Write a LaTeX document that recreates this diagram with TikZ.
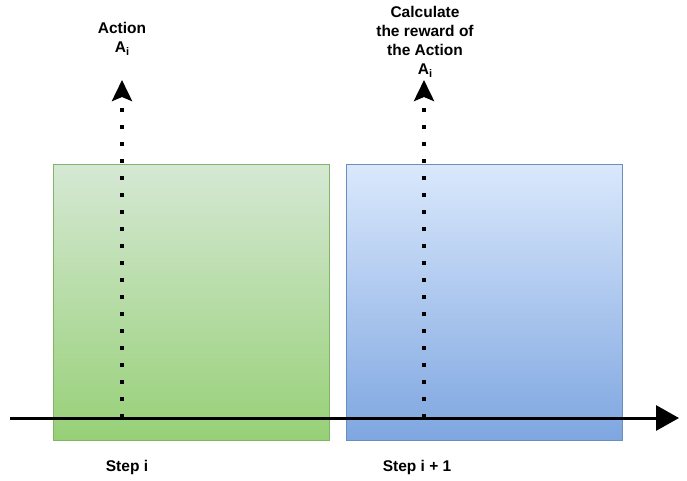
\documentclass[tikz,border=0pt]{standalone}
\usepackage{fontspec}
\setmainfont{Liberation Sans}
\usetikzlibrary{arrows.meta}
\definecolor{gtop}{HTML}{D5E8D4}
\definecolor{gbot}{HTML}{97D077}
\definecolor{gline}{HTML}{82B366}
\definecolor{btop}{HTML}{DAE8FC}
\definecolor{bbot}{HTML}{7EA6E0}
\definecolor{bline}{HTML}{6C8EBF}
\newcommand{\mysub}[1]{\raisebox{-3.5pt}{\fontsize{11}{11}\selectfont #1}}
\tikzset{
  lbl/.style={font=\fontsize{15.5}{19}\selectfont\bfseries, align=center, inner sep=0pt},
  stepbox/.style={draw, line width=0.8pt, minimum width=276pt, minimum height=276pt, inner sep=0pt, anchor=north west},
  axisline/.style={line width=3pt, -{Triangle[length=23pt,width=25pt]}},
  dotline/.style={line width=4pt, dash pattern=on 4pt off 13pt, -{Stealth[length=21pt,width=20pt,inset=4pt]}}
}
\begin{document}
\begin{tikzpicture}[x=1pt,y=-1pt]
\useasboundingbox (0,0) rectangle (687,480);
\node[stepbox, gline, top color=gtop, bottom color=gbot] (g) at (53,164) {};
\node[stepbox, bline, top color=btop, bottom color=bbot] (b) at (346,164) {};
\coordinate (ax0) at (10,418);
\coordinate (ax1) at (679,418);
\draw[axisline] (ax0) -- (ax1);
\coordinate (d1a) at (122,418);
\coordinate (d1b) at (122,80);
\coordinate (d2a) at (424,418);
\coordinate (d2b) at (424,80);
\draw[dotline] (d1a) -- (d1b);
\draw[dotline] (d2a) -- (d2b);
\node[lbl] (l1) at (122,39) {Action\\A\mysub{i}};
\node[lbl] (l2) at (425,42) {Calculate\\the reward of\\the Action\\A\mysub{i}};
\node[lbl] (s1) at (127,467) {Step i};
\node[lbl] (s2) at (417,467) {Step i + 1};
\end{tikzpicture}
\end{document}
